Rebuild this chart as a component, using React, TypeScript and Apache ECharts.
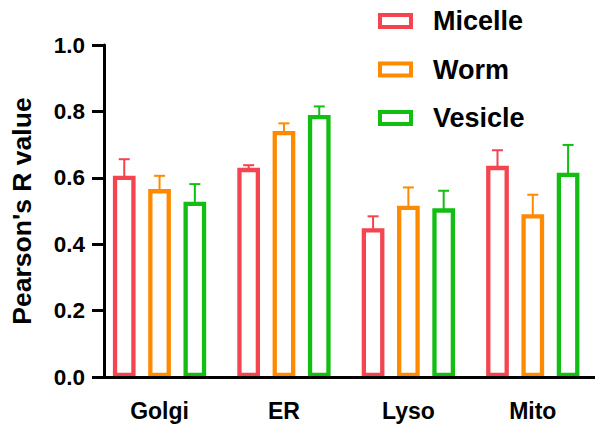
import React, { useEffect, useRef } from "react";
import * as echarts from "echarts";

const categories = ["Golgi", "ER", "Lyso", "Mito"];
const seriesNames = ["Micelle", "Worm", "Vesicle"];
const micelle = [0.606, 0.63, 0.448, 0.636];
const micelleErr = [0.05, 0.008, 0.036, 0.047];
const worm = [0.566, 0.741, 0.516, 0.49];
const wormErr = [0.04, 0.023, 0.055, 0.059];
const vesicle = [0.528, 0.789, 0.508, 0.615];
const vesicleErr = [0.053, 0.026, 0.053, 0.084];
const yTicks = [0, 0.2, 0.4, 0.6, 0.8, 1.0];

const colors = ["#F4444F", "#FF8A00", "#12BE12"];
const FONT = "'Liberation Sans', Arial, Helvetica, sans-serif";
const BAR_W = 22.7;
const BAR_GAP = 0.555;

export default function App() {
  const ref = useRef<HTMLDivElement>(null);
  useEffect(() => {
    if (!ref.current) return;
    document.body.style.margin = "0";
    const chart = echarts.init(ref.current, null, { renderer: "svg" });
    const values = [micelle, worm, vesicle];
    const errs = [micelleErr, wormErr, vesicleErr];
    const step = BAR_W * (1 + BAR_GAP);

    const barSeries = seriesNames.map((name, i) => ({
      name,
      type: "bar",
      data: values[i],
      barWidth: BAR_W,
      barGap: BAR_GAP * 100 + "%",
      itemStyle: { color: "#ffffff", borderColor: colors[i], borderWidth: 4.3 },
      z: 2,
    }));

    const errSeries = seriesNames.map((name, i) => ({
      name: name + " error",
      type: "custom",
      data: values[i].map((v, k) => [k, v, errs[i][k]]),
      encode: { x: 0, y: 1 },
      z: 3,
      renderItem: (params: any, api: any) => {
        const idx = api.value(0);
        const v = api.value(1);
        const e = api.value(2);
        const base = api.coord([idx, v]);
        const top = api.coord([idx, v + e]);
        const x = base[0] + (i - 1) * step;
        const half = 5.5;
        return {
          type: "group",
          children: [
            {
              type: "line",
              shape: { x1: x, y1: base[1] + 2, x2: x, y2: top[1] },
              style: { stroke: colors[i], lineWidth: 2 },
            },
            {
              type: "line",
              shape: { x1: x - half, y1: top[1], x2: x + half, y2: top[1] },
              style: { stroke: colors[i], lineWidth: 2 },
            },
          ],
        };
      },
    }));

    chart.setOption({
      animation: false,
      textStyle: { fontFamily: FONT },
      grid: { left: 96.33, right: -10.67, top: 45, bottom: 50, containLabel: false },
      legend: {
        data: seriesNames,
        orient: "vertical",
        left: 373,
        top: 1,
        itemWidth: 31,
        itemHeight: 12,
        itemGap: 18.5,
        icon: "rect",
        itemStyle: { borderWidth: 4 },
        textStyle: {
          fontFamily: FONT,
          fontWeight: "bold",
          fontSize: 27,
          color: "#000",
          lineHeight: 30,
          padding: [0, 0, 0, 17],
        },
      },
      xAxis: {
        type: "category",
        data: categories,
        z: 10,
        axisLine: { lineStyle: { color: "#000", width: 3 } },
        axisTick: { alignWithLabel: true, length: 12, lineStyle: { color: "#000", width: 3 } },
        axisLabel: {
          fontFamily: FONT,
          fontWeight: "bold",
          fontSize: 23,
          color: "#000",
          margin: 22,
        },
      },
      yAxis: {
        type: "value",
        min: 0,
        max: 1,
        interval: 0.2,
        offset: -6.67,
        z: 10,
        name: "Pearson's R value",
        nameLocation: "middle",
        nameGap: 69,
        nameTextStyle: { fontFamily: FONT, fontWeight: "bold", fontSize: 26.5, color: "#000" },
        splitLine: { show: false },
        axisLine: { show: true, lineStyle: { color: "#000", width: 3 } },
        axisTick: { show: true, length: 12, lineStyle: { color: "#000", width: 3 } },
        axisLabel: {
          fontFamily: FONT,
          fontWeight: "bold",
          fontSize: 22.5,
          color: "#000",
          margin: 19,
          formatter: (v: number) => {
            const t = yTicks.find((y) => Math.abs(y - v) < 1e-6);
            return (t ?? v).toFixed(1);
          },
        },
      },
      series: [...barSeries, ...errSeries],
    });
    return () => chart.dispose();
  }, []);
  return (
    <div
      ref={ref}
      style={{ position: "absolute", left: 0, top: 0, width: 595, height: 427, background: "#fff" }}
    />
  );
}
